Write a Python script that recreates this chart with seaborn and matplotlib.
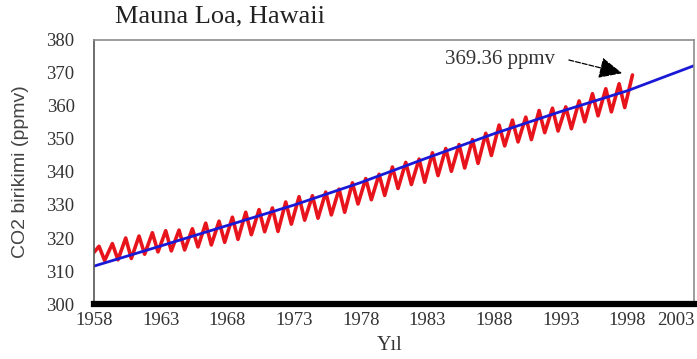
import matplotlib
matplotlib.use("Agg")
import matplotlib.pyplot as plt
import pandas as pd
import seaborn as sns

# Seasonal CO2 record (ppmv): yearly spring peak and autumn trough
years = list(range(1958, 1999))
peaks = [317.5, 318.3, 320.0, 320.6, 321.6, 322.2, 322.4, 322.8, 324.5, 325.1,
         326.3, 327.8, 328.6, 329.1, 330.9, 332.5, 332.8, 333.9, 334.8, 336.7,
         338.0, 339.3, 341.5, 342.9, 343.9, 345.8, 347.1, 348.3, 349.8, 351.7,
         354.2, 355.7, 356.6, 358.6, 359.3, 359.7, 361.5, 363.7, 365.2, 366.7,
         369.36]
troughs = [313.2, 313.4, 313.8, 315.1, 315.8, 316.1, 316.4, 317.3, 317.9, 318.7,
           319.6, 321.0, 321.9, 322.0, 324.2, 325.4, 326.0, 327.0, 327.8, 330.3,
           331.6, 332.9, 335.0, 336.2, 336.9, 338.9, 340.2, 341.2, 342.6, 345.0,
           347.9, 349.1, 349.8, 351.9, 352.4, 353.1, 355.2, 357.0, 358.2, 359.5]
start_value = 315.7

# Smoothed trend (blue) read at five-year steps
trend_years = [1958, 1963, 1968, 1973, 1978, 1983, 1988, 1993, 1998, 2003]
trend_values = [311.5, 317.6, 323.8, 330.0, 336.8, 344.3, 351.6, 358.3, 364.6, 372.2]

xticks = [1958, 1963, 1968, 1973, 1978, 1983, 1988, 1993, 1998, 2003]
yticks = [300, 310, 320, 330, 340, 350, 360, 370, 380]

# build the zigzag: peak in May, trough in October
t, v = [1958.0], [start_value]
for i, yr in enumerate(years):
    t.append(yr + 0.37)
    v.append(peaks[i])
    if i < len(troughs):
        t.append(yr + 0.79)
        v.append(troughs[i])
seasonal = pd.DataFrame({"year": t, "co2": v})
trend = pd.DataFrame({"year": trend_years, "co2": trend_values})

sns.set_theme(style="white")
plt.rcParams["font.family"] = ["Liberation Serif", "DejaVu Serif"]

fig = plt.figure(figsize=(6.97, 3.59), dpi=100)
ax = fig.add_axes([0.135, 0.153, 0.861, 0.736])

sns.lineplot(data=seasonal, x="year", y="co2", color="#e8141c", linewidth=2.6, ax=ax)
sns.lineplot(data=trend, x="year", y="co2", color="#1a1ad6", linewidth=2.0, ax=ax)

ax.set_xlim(1958, 2003)
ax.set_ylim(300, 380)
ax.set_xticks(xticks)
ax.set_yticks(yticks)
ax.tick_params(axis="both", length=0, labelsize=13.5, colors="#333333")
ax.tick_params(axis="x", pad=6)
ax.tick_params(axis="y", pad=14)
ax.get_xticklabels()[-1].set_horizontalalignment("right")

for side in ["top", "right"]:
    ax.spines[side].set_color("#8c8c8c")
    ax.spines[side].set_linewidth(1.2)
ax.spines["left"].set_color("#555555")
ax.spines["left"].set_linewidth(1.2)
ax.spines["bottom"].set_color("black")
ax.spines["bottom"].set_linewidth(4.5)

ax.set_xlabel("Yıl", fontsize=14.5, color="#333333")
ax.xaxis.set_label_coords(0.493, -0.12)
ax.set_ylabel("CO2 birikimi (ppmv)", fontsize=14, color="#444444",
              family=["Liberation Sans", "DejaVu Sans"])
ax.yaxis.set_label_coords(-0.108, 0.5)

ax.text(1988.4, 373.9, "369.36 ppmv", fontsize=15, color="#333333",
        ha="center", va="center")
ax.annotate("", xy=(1997.6, 369.9), xytext=(1993.6, 373.9),
            arrowprops=dict(arrowstyle="-|>,head_length=1.2,head_width=0.55",
                            color="black", lw=0.9, ls=(0, (4, 1.5)),
                            shrinkA=0, shrinkB=0))

fig.text(0.165, 0.955, "Mauna Loa, Hawaii", fontsize=19, color="#222222",
         ha="left", va="center")

fig.savefig("out.png", dpi=100)
